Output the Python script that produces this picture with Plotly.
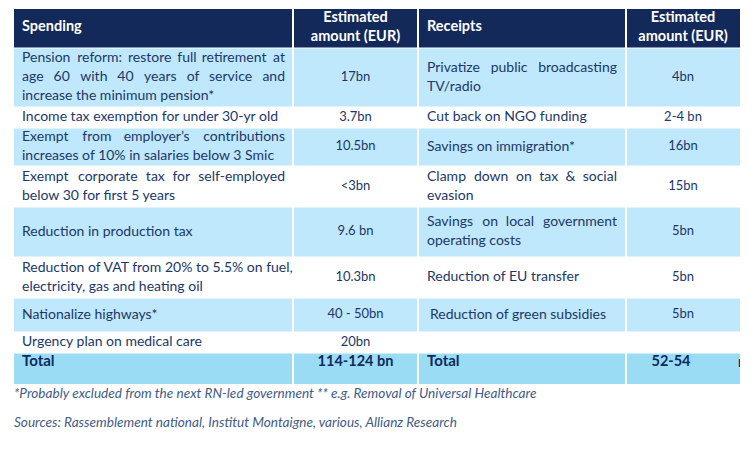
import html
import plotly.graph_objects as go

# ---------------- data ----------------
headers = ["Spending", "Estimated<br>amount (EUR)", "Receipts", "Estimated<br>amount (EUR)"]
spending = [
    "Pension reform: restore full retirement at<br>age 60 with 40 years of service and<br>increase the minimum pension*",
    "Income tax exemption for under 30-yr old",
    "Exempt from employer\u2019s contributions<br>increases of 10% in salaries below 3 Smic",
    "Exempt corporate tax for self-employed<br>below 30 for first 5 years",
    "Reduction in production tax",
    "Reduction of VAT from 20% to 5.5% on fuel,<br>electricity, gas and heating oil",
    "Nationalize highways*",
    "Urgency plan on medical care",
]
spending_amount = ["17bn", "3.7bn", "10.5bn", "<3bn", "9.6 bn", "10.3bn", "40 - 50bn", "20bn"]
receipts = [
    "Privatize public broadcasting<br>TV/radio",
    "Cut back on NGO funding",
    "Savings on immigration*",
    "Clamp down on tax & social<br>evasion",
    "Savings on local government<br>operating costs",
    "Reduction of EU transfer",
    " Reduction of green subsidies",
    "",
]
receipts_amount = ["4bn", "2-4 bn", "16bn", "15bn", "5bn", "5bn", "5bn", ""]
totals = ["Total", "114-124 bn", "Total", "52-54"]
footnotes = [
    "*Probably excluded from the next RN-led government ** e.g. Removal of Universal Healthcare",
    "Sources: Rassemblement national, Institut Montaigne, various, Allianz Research",
]

# ---------------- layout (pixels) ----------------
W, H = 754, 449
OFF = 8  # default page body margin
col_edges = [14, 293, 418, 626, 740]
table_top = 9
row_heights = [39, 59, 21, 38, 41, 50, 41, 34, 21, 31]  # header, 8 body rows, total
line_gap = 19
pad_l = [8, 9]  # left padding of label columns

NAVY = "#13295a"
BLUE = "#bfe8fc"
TOTAL_BLUE = "#9bdcf5"
TEXT = "#1c3769"
TOTAL_TEXT = "#0f2b5c"
FOOT = "#3f5b86"
FONT = "Lato"
LABEL_SIZE = 14
AMOUNT_SIZE = 13

row_edges = [table_top]
for h in row_heights:
    row_edges.append(row_edges[-1] + h)

shapes = []
n_rows = len(row_heights)
for r in range(n_rows):
    y0, y1 = row_edges[r], row_edges[r + 1]
    if r == 0:
        fill = NAVY
    elif r == n_rows - 1:
        fill = TOTAL_BLUE
    elif r % 2 == 1:
        fill = BLUE
    else:
        fill = "white"
    shapes.append(dict(type="rect", xref="x", yref="y", x0=col_edges[0], x1=col_edges[-1],
                       y0=y0, y1=y1, fillcolor=fill, line=dict(width=0), layer="below"))
for xe in col_edges[1:-1]:
    shapes.append(dict(type="line", xref="x", yref="y", x0=xe, x1=xe, y0=row_edges[0], y1=row_edges[-1],
                       line=dict(color="white", width=2), layer="below"))
for ye in row_edges[1:-1]:
    shapes.append(dict(type="line", xref="x", yref="y", x0=col_edges[0], x1=col_edges[-1], y0=ye, y1=ye,
                       line=dict(color="white", width=1), layer="below"))

# approximate Lato advance widths (em) used only to spread words of justified lines
_w = {" ": .193, "a": .49, "b": .55, "c": .45, "d": .55, "e": .51, "f": .31, "g": .49, "h": .55,
      "i": .23, "j": .23, "k": .48, "l": .23, "m": .83, "n": .55, "o": .55, "p": .55, "q": .55,
      "r": .35, "s": .41, "t": .34, "u": .55, "v": .49, "w": .75, "x": .48, "y": .49, "z": .44,
      ".": .22, ",": .22, ":": .22, "'": .2, "\u2019": .2, "-": .33, "&": .68, "*": .4, "/": .37,
      "%": .75, "I": .27, "M": .82, "W": .98}


def est_width(s, size):
    tot = 0
    for ch in s:
        if ch in _w:
            tot += _w[ch]
        elif ch.isdigit():
            tot += .58
        elif ch.isupper():
            tot += .63
        else:
            tot += .5
    return tot * size * 1.04


def lines_of(s):
    return s.split("<br>") if s else []


esc = lambda s: html.escape(s, quote=False)

groups = {}  # (pos, size, color, style, axis) -> (xs, ys, texts)


def put(x, y, t, pos, size, color, style="", axis=1):
    key = (pos, size, color, style, axis)
    g = groups.setdefault(key, ([], [], []))
    g[0].append(x)
    g[1].append(y)
    g[2].append(esc(t))


def place_label(text, x_left, x_right, yc, size, color, style="", justify=True):
    ls = lines_of(text)
    n = len(ls)
    for i, ln in enumerate(ls):
        y = yc + (i - (n - 1) / 2) * line_gap
        words = ln.split()
        if justify and i < n - 1 and len(words) > 1:
            ws = [est_width(w, size) for w in words]
            gap = (x_right - x_left - sum(ws)) / (len(words) - 1)
            if gap > est_width(" ", size) * 1.2:
                x = x_left
                for k, w in enumerate(words):
                    if k == len(words) - 1:
                        put(x_right, y, w, "middle left", size, color, style)
                    else:
                        put(x, y, w, "middle right", size, color, style)
                    x += ws[k] + gap
                continue
        put(x_left, y, ln, "middle right", size, color, style)


def place_center(text, xc, yc, size, color, style=""):
    ls = lines_of(text)
    n = len(ls)
    for i, ln in enumerate(ls):
        put(xc, yc + (i - (n - 1) / 2) * line_gap, ln, "middle center", size, color, style)


left_x = [col_edges[0] + pad_l[0], col_edges[2] + pad_l[1]]
right_x = [col_edges[1] - 8, col_edges[3] - 9]
mid_x = [(col_edges[1] + col_edges[2]) / 2, (col_edges[3] + col_edges[4]) / 2]

for i in range(len(spending)):
    yc = (row_edges[i + 1] + row_edges[i + 2]) / 2
    place_label(spending[i], left_x[0], right_x[0], yc, LABEL_SIZE, TEXT)
    if receipts[i].startswith(" "):
        place_label(receipts[i].strip(), left_x[1] + 3, right_x[1], yc, LABEL_SIZE, TEXT)
    else:
        place_label(receipts[i], left_x[1], right_x[1], yc, LABEL_SIZE, TEXT)
    place_center(spending_amount[i], mid_x[0], yc, AMOUNT_SIZE, TEXT)
    place_center(receipts_amount[i], mid_x[1], yc, AMOUNT_SIZE, TEXT)

hyc = (row_edges[0] + row_edges[1]) / 2 - 1
place_label(headers[0], left_x[0], right_x[0], hyc, 14.5, "white", "b", justify=False)
place_label(headers[2], left_x[1], right_x[1], hyc, 14.5, "white", "b", justify=False)
place_center(headers[1], mid_x[0], hyc, 14.5, "white", "b")
place_center(headers[3], mid_x[1], hyc, 14.5, "white", "b")

tyc = row_edges[-2] + 9.5
place_label(totals[0], left_x[0], right_x[0], tyc, 15, TOTAL_TEXT, "b", justify=False)
place_label(totals[2], left_x[1], right_x[1], tyc, 15, TOTAL_TEXT, "b", justify=False)
place_center(totals[1], mid_x[0], tyc, 14.5, TOTAL_TEXT, "b")
place_center(totals[3], mid_x[1] - 12, tyc, 14.5, TOTAL_TEXT, "b")
# trailing unit of the receipts total, cut off by the table edge (clipped axis)
put(col_edges[-1] - 2, tyc + 1, "n", "middle right", 14.5, TOTAL_TEXT, "b", axis=2)

foot_y = [394.5, 423.5]
for fy, ft in zip(foot_y, footnotes):
    put(col_edges[0], fy, ft, "middle right", 13.6, FOOT, "i")

fig = go.Figure()
for (pos, size, color, style, axis), (xs, ys, ts) in groups.items():
    if style:
        ts = [f"<{style}>{t}</{style}>" for t in ts]
    fig.add_trace(go.Scatter(
        x=xs, y=ys, text=ts, mode="text", textposition=pos, hoverinfo="skip", showlegend=False,
        cliponaxis=True, xaxis="x" if axis == 1 else "x2", yaxis="y" if axis == 1 else "y2",
        textfont=dict(family=FONT, size=size, color=color)))

fw = W - OFF
fig.update_layout(
    width=fw, height=H - OFF, margin=dict(l=0, r=0, t=0, b=0),
    paper_bgcolor="white", plot_bgcolor="rgba(0,0,0,0)",
    xaxis=dict(range=[OFF, W], domain=[0, 1], visible=False, fixedrange=True),
    yaxis=dict(range=[H, OFF], domain=[0, 1], visible=False, fixedrange=True),
    xaxis2=dict(range=[OFF, col_edges[-1]], domain=[0, (col_edges[-1] - OFF) / fw],
                visible=False, fixedrange=True, anchor="y2"),
    yaxis2=dict(range=[H, OFF], domain=[0, 1], visible=False, fixedrange=True, anchor="x2"),
    shapes=shapes,
)
fig.write_html("out.html")
